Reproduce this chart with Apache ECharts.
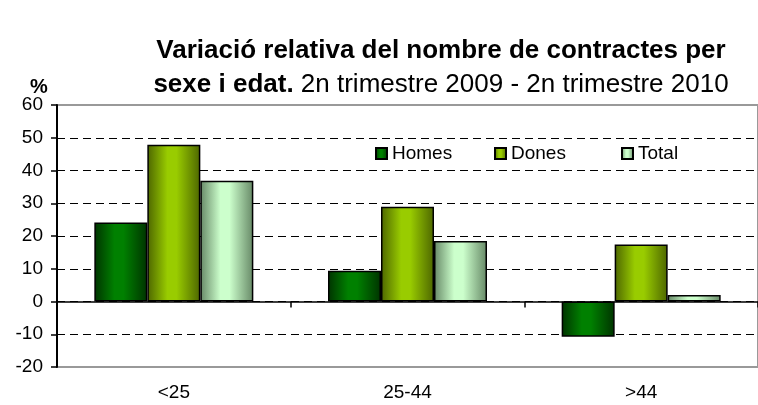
<!DOCTYPE html>
<html>
<head>
<meta charset="utf-8">
<script src="https://cdn.jsdelivr.net/npm/echarts@6/dist/echarts.min.js"></script>
<style>
html,body{margin:0;padding:0;background:#fff;}
#c{width:758px;height:405px;}
</style>
</head>
<body>
<div id="c"></div>
<script>
var categories = ['<25', '25-44', '>44'];
var seriesNames = ['Homes', 'Dones', 'Total'];
var homes = [24.1, 9.4, -10.8];
var dones = [47.9, 28.9, 17.4];
var total = [36.9, 18.5, 2.0];
var yTicks = [-20, -10, 0, 10, 20, 30, 40, 50, 60];

function grad(edge, mid) {
  return new echarts.graphic.LinearGradient(0, 0, 1, 0, [
    {offset: 0, color: edge},
    {offset: 0.38, color: mid},
    {offset: 0.55, color: mid},
    {offset: 1, color: edge}
  ]);
}
var FONT = 'Liberation Sans, Arial, sans-serif';
var chart = echarts.init(document.getElementById('c'));
var splitColors = yTicks.map(function (v, i) { return (i === 0 || i === yTicks.length - 1) ? 'rgba(0,0,0,0)' : '#000'; });
function bar(name, data, edge, mid) {
  return {
    name: name, type: 'bar', data: data, barWidth: 53, barGap: '0%',
    itemStyle: {color: grad(edge, mid), borderColor: '#000', borderWidth: 1.5},
    emphasis: {disabled: true}
  };
}
var legendLefts = [375, 494, 621];
var legends = seriesNames.map(function (n, i) {
  return {
    left: legendLefts[i], top: 144, itemWidth: 11, itemHeight: 11, icon: 'rect',
    padding: 0,
    textStyle: {fontFamily: FONT, fontSize: 19, color: '#000'},
    data: [n]
  };
});
chart.setOption({
  animation: false,
  backgroundColor: '#fff',
  title: [{
    text: '{b|Variació relativa del nombre de contractes per}\n{b|sexe i edat.}{n| 2n trimestre 2009 - 2n trimestre 2010}',
    left: 436, top: 29, textAlign: 'center',
    textStyle: {
      fontFamily: FONT, lineHeight: 34,
      rich: {
        b: {fontFamily: FONT, fontSize: 26, fontWeight: 'bold', color: '#000', lineHeight: 34},
        n: {fontFamily: FONT, fontSize: 26, fontWeight: 'normal', color: '#000', lineHeight: 34}
      }
    }
  }, {
    text: '%', left: 25, top: 72,
    textStyle: {fontFamily: FONT, fontSize: 20, fontWeight: 'bold', color: '#000'}
  }],
  legend: legends,
  grid: {left: 57, top: 105, width: 711, height: 262, show: true, borderColor: '#999', borderWidth: 2, backgroundColor: 'transparent'},
  xAxis: [{
    type: 'category', data: categories,
    axisLine: {onZero: true, lineStyle: {color: '#000', width: 1.5}},
    axisTick: {show: true, length: 6, lineStyle: {color: '#000', width: 1.5}},
    axisLabel: {show: false}
  }, {
    type: 'category', data: categories, position: 'bottom',
    axisLine: {show: false, onZero: false}, axisTick: {show: false},
    axisLabel: {fontFamily: FONT, fontSize: 19, color: '#000', margin: 16}
  }],
  yAxis: {
    type: 'value', min: -20, max: 60, interval: 10,
    axisLine: {show: true, lineStyle: {color: '#000', width: 2}},
    axisTick: {show: true, length: 6, lineStyle: {color: '#000', width: 1.5}},
    axisLabel: {fontFamily: FONT, fontSize: 19, color: '#000', margin: 14},
    splitLine: {show: true, lineStyle: {color: splitColors, type: [8, 5], width: 1}}
  },
  series: [
    bar('Homes', homes, '#003300', '#008000'),
    bar('Dones', dones, '#4d6600', '#99cc00'),
    bar('Total', total, '#668866', '#ccffcc')
  ]
});
</script>
</body>
</html>
